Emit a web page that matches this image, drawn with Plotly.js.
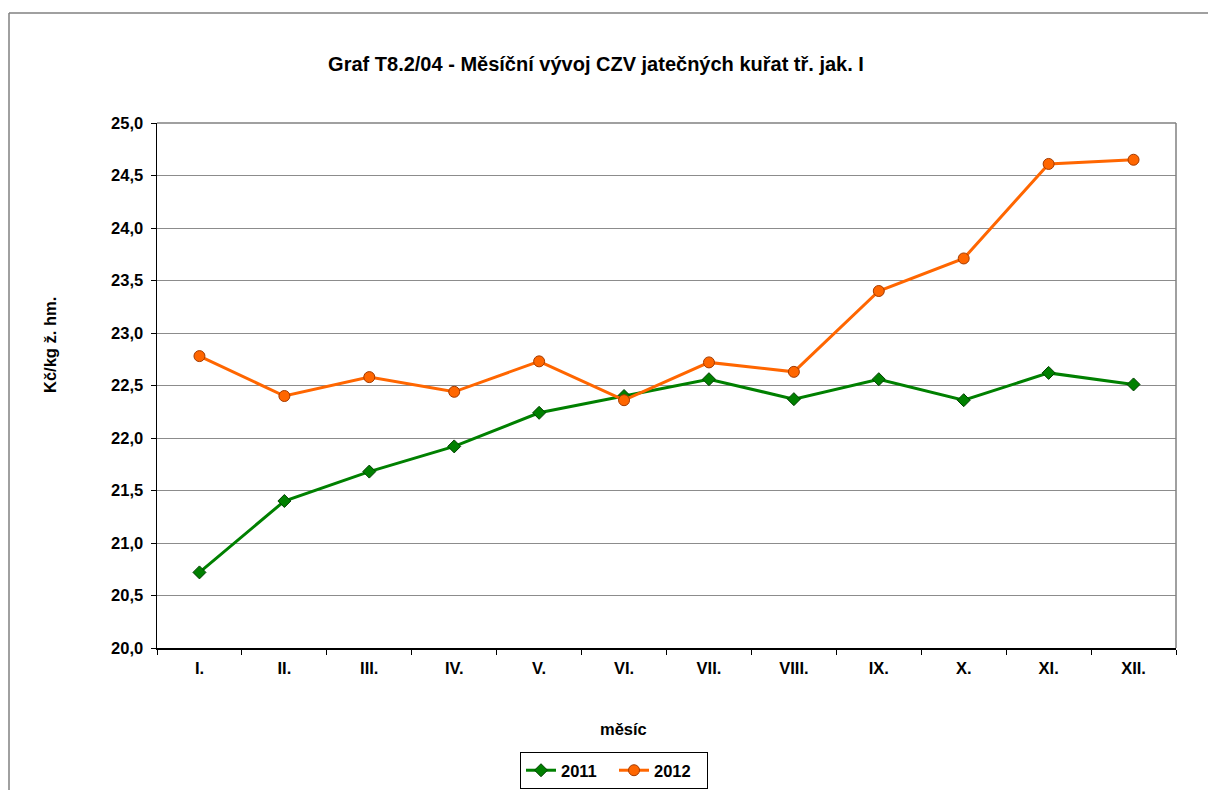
<!DOCTYPE html>
<html>
<head>
<meta charset="utf-8">
<script src="https://cdn.plot.ly/plotly-3.0.1.min.js"></script>
<style>html,body{margin:0;padding:0;background:#fff;}#chart{width:1208px;height:790px;}</style>
</head>
<body>
<div id="chart"></div>
<script>
const months = ["I.", "II.", "III.", "IV.", "V.", "VI.", "VII.", "VIII.", "IX.", "X.", "XI.", "XII."];
const values2011 = [20.72, 21.40, 21.68, 21.92, 22.24, 22.40, 22.56, 22.37, 22.56, 22.36, 22.62, 22.51];
const values2012 = [22.78, 22.40, 22.58, 22.44, 22.73, 22.36, 22.72, 22.63, 23.40, 23.71, 24.61, 24.65];
const yTickVals = [20, 20.5, 21, 21.5, 22, 22.5, 23, 23.5, 24, 24.5, 25];
const yTickText = ["20,0", "20,5", "21,0", "21,5", "22,0", "22,5", "23,0", "23,5", "24,0", "24,5", "25,0"];

const FONT = "Liberation Sans, Arial, sans-serif";

const traces = [
  {
    x: months, y: values2011, name: "<b>2011</b>", type: "scatter", mode: "lines+markers",
    line: {color: "#008000", width: 3},
    marker: {symbol: "diamond", size: 10, color: "#008000", line: {color: "#004000", width: 1}}
  },
  {
    x: months, y: values2012, name: "<b>2012</b>", type: "scatter", mode: "lines+markers",
    line: {color: "#FF6600", width: 3},
    marker: {symbol: "circle", size: 11, color: "#FF6600", line: {color: "#A33A00", width: 1}}
  }
];

const layout = {
  width: 1208, height: 790,
  paper_bgcolor: "#ffffff", plot_bgcolor: "#ffffff",
  margin: {l: 157, r: 32, t: 123, b: 142},
  font: {family: FONT, color: "#000", size: 16},
  title: {
    text: "<b>Graf T8.2/04 - Měsíční vývoj CZV jatečných kuřat tř. jak. I</b>",
    font: {family: FONT, size: 20, color: "#000"},
    x: 596 / 1208, xref: "container", xanchor: "center",
    y: 1 - 64 / 790, yref: "container", yanchor: "middle"
  },
  xaxis: {
    type: "category",
    tickvals: months, ticktext: months.map(m => "<b>" + m + "</b>"),
    tickson: "boundaries",
    ticks: "outside", ticklen: 5, tickcolor: "#000", tickwidth: 1,
    ticklabelstandoff: 4,
    showline: true, linecolor: "#000", linewidth: 2,
    showgrid: false, zeroline: false,
    tickfont: {family: FONT, size: 16.5, color: "#000"},
    range: [-0.5, 11.5], fixedrange: true
  },
  yaxis: {
    range: [20, 25],
    tickvals: yTickVals, ticktext: yTickText.map(t => "<b>" + t + "</b>"),
    ticks: "outside", ticklen: 5, tickcolor: "#000", tickwidth: 1,
    ticklabelstandoff: 4,
    showline: true, linecolor: "#000", linewidth: 1.5,
    showgrid: true, gridcolor: "#8c8c8c", gridwidth: 1,
    zeroline: false,
    tickfont: {family: FONT, size: 16.5, color: "#000"},
    fixedrange: true
  },
  showlegend: true,
  legend: {
    orientation: "h",
    x: 614 / 1208, xref: "container", xanchor: "center",
    y: 1 / 790, yref: "container", yanchor: "bottom",
    bordercolor: "#000", borderwidth: 1, bgcolor: "#fff",
    font: {family: FONT, size: 16.5, color: "#000"},
    entrywidth: 48, entrywidthmode: "pixels", tracegroupgap: 0
  },
  annotations: [
    {
      text: "<b>měsíc</b>", xref: "paper", yref: "paper",
      x: (623 - 157) / (1208 - 157 - 32), y: -(729 - 648) / (648 - 123),
      showarrow: false, xanchor: "center", yanchor: "middle",
      font: {family: FONT, size: 16.5, color: "#000"}
    },
    {
      text: "<b>Kč/kg ž. hm.</b>", xref: "paper", yref: "paper",
      x: -(157 - 50) / (1208 - 157 - 32), y: (648 - 345) / (648 - 123),
      showarrow: false, xanchor: "center", yanchor: "middle", textangle: -90,
      font: {family: FONT, size: 16.5, color: "#000"}
    }
  ],
  shapes: [
    {type: "line", xref: "paper", yref: "paper", x0: 0, x1: 1, y0: 1, y1: 1, line: {color: "#808080", width: 1.5}},
    {type: "line", xref: "paper", yref: "paper", x0: 1, x1: 1, y0: 0, y1: 1, line: {color: "#808080", width: 1.5}},
    {type: "line", xref: "paper", yref: "paper",
     x0: -(157 - 9) / 1019, x1: (1210 - 157) / 1019, y0: (648 - 13) / 525, y1: (648 - 13) / 525,
     line: {color: "#808080", width: 1.5}},
    {type: "line", xref: "paper", yref: "paper",
     x0: -(157 - 9) / 1019, x1: -(157 - 9) / 1019, y0: (648 - 13) / 525, y1: -(800 - 648) / 525,
     line: {color: "#808080", width: 1.5}}
  ]
};

Plotly.newPlot("chart", traces, layout, {displayModeBar: false, staticPlot: true});
</script>
</body>
</html>
